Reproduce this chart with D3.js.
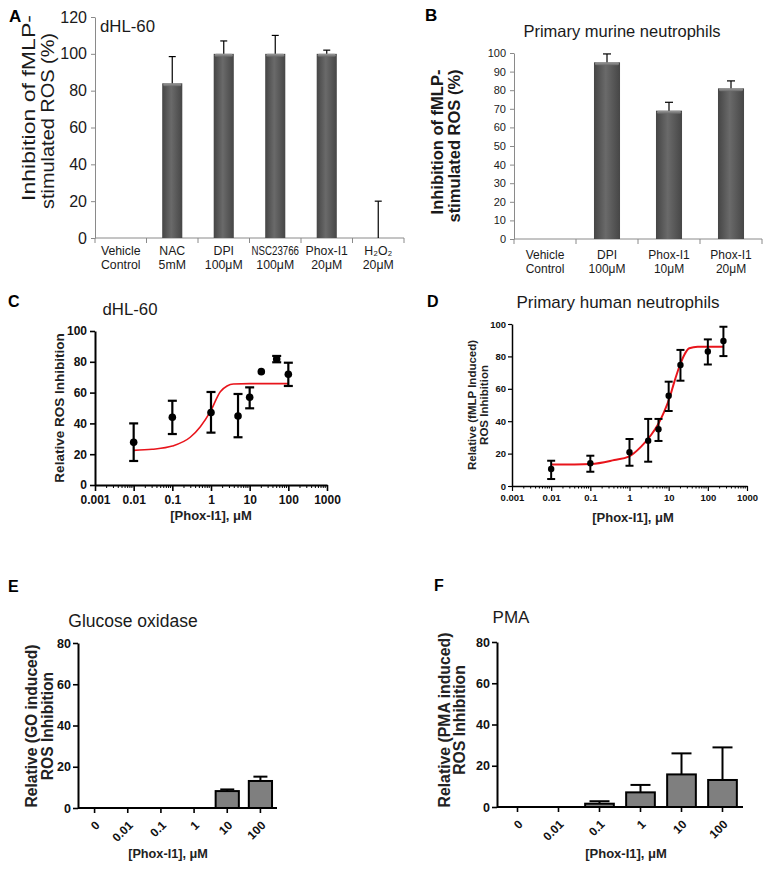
<!DOCTYPE html>
<html><head><meta charset="utf-8">
<script src="https://cdn.jsdelivr.net/npm/d3@7"></script>
<style>
body{margin:0;background:#fff}
svg{display:block}
text{font-family:"Liberation Sans",Arial,Helvetica,sans-serif}
</style>
</head><body>
<svg id="fig" width="776" height="870"></svg>
<script>
// ---------------- DATA ----------------
// Panel A: dHL-60
const catsA = ["Vehicle|Control","NAC|5mM","DPI|100μM","NSC23766|100μM","Phox-I1|20μM","H₂O₂|20μM"];
const meanA = [null, 84, 100, 100, 100, 0];
const errTopA = [null, 98.5, 107, 110, 102, 20];
const ticksA = [0, 20, 40, 60, 80, 100, 120];

// Panel B: primary murine neutrophils
const catsB = ["Vehicle|Control","DPI|100μM","Phox-I1|10μM","Phox-I1|20μM"];
const meanB = [null, 95, 69, 81];
const errTopB = [null, 99.5, 73.5, 85];
const ticksB = [0, 10, 20, 30, 40, 50, 60, 70, 80, 90, 100];

// Panel C: dHL-60 dose response
const doseC = [0.01, 0.1, 1, 5, 10, 20, 50, 100];
const meanC = [27.7, 44, 47, 44.8, 57, 73.6, 81.8, 71.9];
const lowC  = [15.6, 33.1, 34, 31, 49.8, 73.6, 79.7, 64.3];
const highC = [40, 54.7, 60.4, 59.1, 63.4, 73.6, 83.8, 79.4];
const fitDoseC = [0.01, 0.03, 0.1, 0.29, 0.53, 0.96, 1.74, 2.6, 3.8, 10, 100];
const fitC     = [22.5, 23.2, 25.3, 31, 37.9, 47.6, 60.6, 64.3, 65.6, 65.8, 65.8];
const ticksC = [0, 20, 40, 60, 80, 100];

// Panel D: primary human neutrophils dose response
const doseD = [0.01, 0.1, 1, 3, 5.5, 10, 20, 100, 250];
const meanD = [10.5, 14, 20.8, 28, 35, 55.7, 74.7, 83, 89.5];
const lowD  = [4.3, 8.8, 12.5, 15, 27.8, 46.3, 65, 75, 80.2];
const highD = [15.6, 18.7, 29, 41.4, 41.4, 64.4, 84, 90.5, 98.3];
const fitDoseD = [0.01, 0.105, 0.41, 0.955, 1.98, 3.55, 5.25, 7.7, 10.4, 14, 18.7, 25, 33.6, 55, 250];
const fitD     = [13.2, 13.6, 16, 18.1, 24.3, 31.5, 37.7, 45.9, 54, 64.4, 73.6, 80.9, 85, 86, 86];
const ticksD = [0, 20, 40, 60, 80, 100];

const logTicks = [0.001, 0.01, 0.1, 1, 10, 100, 1000];
const logTickLabels = ["0.001", "0.01", "0.1", "1", "10", "100", "1000"];

// Panels E / F
const catsEF = ["0", "0.01", "0.1", "1", "10", "100"];
const meanE = [0, 0, 0, 0, 8.2, 13.1];
const errTopE = [0, 0, 0, 0, 9, 15.2];
const meanF = [0, 0, 1.6, 7.1, 15.8, 13.1];
const errTopF = [0, 0, 2.8, 10.7, 26, 28.9];
const ticksEF = [0, 20, 40, 60, 80];

// ---------------- DRAWING ----------------
const svg = d3.select("#fig");
const FONT = '"Liberation Sans",Arial,Helvetica,sans-serif';

const defs = svg.append("defs");
const g1 = defs.append("linearGradient").attr("id", "barGrad").attr("x1", 0).attr("x2", 1).attr("y1", 0).attr("y2", 0);
g1.append("stop").attr("offset", "0%").attr("stop-color", "#454545");
g1.append("stop").attr("offset", "45%").attr("stop-color", "#6a6a6a");
g1.append("stop").attr("offset", "100%").attr("stop-color", "#464646");
const g2 = defs.append("linearGradient").attr("id", "capGrad").attr("x1", 0).attr("x2", 0).attr("y1", 0).attr("y2", 1);
g2.append("stop").attr("offset", "0%").attr("stop-color", "#9a9a9a");
g2.append("stop").attr("offset", "100%").attr("stop-color", "#6a6a6a");

function txt(x, y, s, size, opts = {}) {
  const t = svg.append("text").attr("x", x).attr("y", y).text(s)
    .attr("font-size", size).attr("fill", opts.fill || "#000")
    .attr("font-weight", opts.bold ? "bold" : "normal")
    .attr("text-anchor", opts.anchor || "start");
  return t;
}
function rotTxt(cx, cy, s, size, opts = {}) {
  const t = svg.append("text").attr("transform", `translate(${cx},${cy}) rotate(-90)`)
    .attr("x", 0).attr("y", 0).text(s).attr("font-size", size)
    .attr("font-weight", opts.bold ? "bold" : "normal")
    .attr("text-anchor", "middle").attr("fill", opts.fill || "#000");
  if (opts.len) t.attr("textLength", opts.len).attr("lengthAdjust", "spacingAndGlyphs");
  return t;
}

// ---------- Excel-style bar panels (A, B) ----------
function excelBars(cfg) {
  const g = svg.append("g");
  const x = d3.scaleBand().domain(cfg.cats).range([cfg.x0, cfg.x1]);
  const y = d3.scaleLinear().domain(cfg.yDomain).range([cfg.yBottom, cfg.yTop]);
  const axisCol = "#8a8a8a";
  const ya = g.append("g").attr("transform", `translate(${cfg.x0},0)`)
    .call(d3.axisLeft(y).tickValues(cfg.ticks).tickSize(4).tickSizeOuter(0).tickPadding(cfg.tickPad));
  ya.select(".domain").attr("stroke", axisCol);
  ya.selectAll(".tick line").attr("stroke", axisCol);
  ya.selectAll(".tick text").attr("font-size", cfg.tickFont).attr("font-family", FONT).attr("fill", "#1a1a1a");
  g.append("line").attr("x1", cfg.x0).attr("x2", cfg.x1).attr("y1", y(0)).attr("y2", y(0)).attr("stroke", axisCol);
  const bounds = cfg.cats.map(c => x(c)).concat([cfg.x1]);
  g.selectAll(".bt").data(bounds).enter().append("line")
    .attr("x1", d => d).attr("x2", d => d).attr("y1", y(0)).attr("y2", y(0) + 5).attr("stroke", axisCol);
  const bw = x.bandwidth() * cfg.barFrac;
  cfg.cats.forEach((c, i) => {
    const v = cfg.mean[i];
    if (v === null) return;
    const cx = x(c) + x.bandwidth() / 2;
    if (v > 0) {
      g.append("rect").attr("x", cx - bw / 2).attr("y", y(v)).attr("width", bw).attr("height", y(0) - y(v))
        .attr("fill", "url(#barGrad)");
      g.append("rect").attr("x", cx - bw / 2 + 1).attr("y", y(v)).attr("width", bw - 2).attr("height", 3)
        .attr("rx", 1.5).attr("fill", "url(#capGrad)");
    }
    const e = cfg.errTop[i];
    g.append("line").attr("x1", cx).attr("x2", cx).attr("y1", y(v)).attr("y2", y(e)).attr("stroke", "#000").attr("stroke-width", 1.2);
    g.append("line").attr("x1", cx - cfg.cap).attr("x2", cx + cfg.cap).attr("y1", y(e)).attr("y2", y(e)).attr("stroke", "#000").attr("stroke-width", 1.2);
  });
  const maxW = x.bandwidth() - 4;
  cfg.cats.forEach(c => {
    const cx = x(c) + x.bandwidth() / 2;
    const parts = c.split("|");
    parts.forEach((p, k) => {
      const t = svg.append("text").attr("transform", `translate(${cx},${k === 0 ? cfg.lab1 : cfg.lab2})`)
        .attr("x", 0).attr("y", 0).text(p).attr("font-size", cfg.labFont)
        .attr("text-anchor", "middle").attr("fill", "#1a1a1a");
      const w = t.node().getComputedTextLength();
      if (w > maxW)
        t.attr("transform", `translate(${cx},${k === 0 ? cfg.lab1 : cfg.lab2}) scale(${maxW / w},1)`);
    });
  });
  return { x, y };
}

// Panel A
excelBars({
  cats: catsA, mean: meanA, errTop: errTopA, ticks: ticksA, yDomain: [0, 120],
  x0: 95, x1: 404, yBottom: 238, yTop: 17, barFrac: 0.39, cap: 3.5,
  tickFont: 16, tickPad: 4, labFont: 12.3, lab1: 255, lab2: 269
});
txt(9, 22, "A", 17, { bold: true });
txt(100, 32, "dHL-60", 16.8, { fill: "#1a1a1a" });
rotTxt(35, 108, "Inhibition of fMLP-", 17.5, { len: 186, fill: "#1a1a1a" });
rotTxt(54, 121, "stimulated ROS (%)", 17.5, { len: 176, fill: "#1a1a1a" });

// Panel B
excelBars({
  cats: catsB, mean: meanB, errTop: errTopB, ticks: ticksB, yDomain: [0, 100],
  x0: 514, x1: 762, yBottom: 239, yTop: 53, barFrac: 0.42, cap: 4,
  tickFont: 11, tickPad: 4, labFont: 12, lab1: 259, lab2: 273
});
txt(425, 21, "B", 17, { bold: true });
txt(622, 37, "Primary murine neutrophils", 16.5, { anchor: "middle", fill: "#1a1a1a" });
rotTxt(443, 142, "Inhibition of fMLP-", 16.5, { bold: true, fill: "#1a1a1a" });
rotTxt(460, 146, "stimulated ROS (%)", 16.5, { bold: true, fill: "#1a1a1a" });

// ---------- Prism-style log dose-response (C, D) ----------
function doseResp(cfg) {
  const g = svg.append("g");
  const x = d3.scaleLog().domain([0.001, 1000]).range([cfg.x0, cfg.x1]);
  const y = d3.scaleLinear().domain([0, 100]).range([cfg.yBottom, cfg.yTop]);
  const sw = cfg.axisW;
  const minors = x.ticks().filter(t => logTicks.indexOf(t) < 0);
  g.selectAll(".mt").data(minors).enter().append("line")
    .attr("x1", d => x(d)).attr("x2", d => x(d)).attr("y1", cfg.yBottom).attr("y2", cfg.yBottom + cfg.minorLen)
    .attr("stroke", "#000").attr("stroke-width", 1);
  const xa = g.append("g").attr("transform", `translate(0,${cfg.yBottom})`)
    .call(d3.axisBottom(x).tickValues(logTicks).tickFormat((d, i) => logTickLabels[i]).tickSize(cfg.majorLen).tickSizeOuter(0).tickPadding(cfg.xPad));
  xa.select(".domain").attr("stroke-width", sw).attr("stroke", "#000");
  xa.selectAll(".tick line").attr("stroke-width", sw * 0.8);
  xa.selectAll(".tick text").attr("font-size", cfg.tickFont).attr("font-weight", "bold").attr("font-family", FONT).attr("fill", "#111");
  const ya = g.append("g").attr("transform", `translate(${cfg.x0},0)`)
    .call(d3.axisLeft(y).tickValues(cfg.ticks).tickSize(cfg.yTick).tickSizeOuter(0).tickPadding(cfg.yPad));
  ya.select(".domain").attr("stroke-width", sw).attr("stroke", "#000");
  ya.selectAll(".tick line").attr("stroke-width", sw * 0.8);
  ya.selectAll(".tick text").attr("font-size", cfg.tickFont).attr("font-weight", "bold").attr("font-family", FONT).attr("fill", "#111");
  const pts = cfg.fitX.map((d, i) => [x(d), y(cfg.fitY[i])]);
  g.append("path").attr("d", d3.line().curve(d3.curveMonotoneX)(pts))
    .attr("fill", "none").attr("stroke", "#e8141b").attr("stroke-width", cfg.fitW);
  cfg.dose.forEach((d, i) => {
    const cx = x(d);
    if (cfg.high[i] !== cfg.low[i]) {
      g.append("line").attr("x1", cx).attr("x2", cx).attr("y1", y(cfg.low[i])).attr("y2", y(cfg.high[i]))
        .attr("stroke", "#000").attr("stroke-width", cfg.errW);
      [cfg.low[i], cfg.high[i]].forEach(v => {
        g.append("line").attr("x1", cx - cfg.cap).attr("x2", cx + cfg.cap).attr("y1", y(v)).attr("y2", y(v))
          .attr("stroke", "#000").attr("stroke-width", cfg.errW);
      });
    }
    g.append("circle").attr("cx", cx).attr("cy", y(cfg.mean[i])).attr("r", cfg.r).attr("fill", "#000");
  });
}

doseResp({
  x0: 95, x1: 327, yBottom: 485, yTop: 331, ticks: ticksC,
  dose: doseC, mean: meanC, low: lowC, high: highC, fitX: fitDoseC, fitY: fitC,
  axisW: 2, majorLen: 6, minorLen: 3, yTick: 5, tickFont: 12, xPad: 4, yPad: 3,
  fitW: 1.6, errW: 2.2, cap: 4.5, r: 3.8
});
txt(8, 307, "C", 16, { bold: true });
txt(130, 315, "dHL-60", 16.8, { anchor: "middle", fill: "#1a1a1a" });
rotTxt(64, 408, "Relative ROS Inhibition", 13.5, { bold: true, fill: "#222" });
txt(211, 520, "[Phox-I1], μM", 13, { bold: true, anchor: "middle", fill: "#222" });

doseResp({
  x0: 512, x1: 747, yBottom: 486, yTop: 324, ticks: ticksD,
  dose: doseD, mean: meanD, low: lowD, high: highD, fitX: fitDoseD, fitY: fitD,
  axisW: 1.5, majorLen: 5, minorLen: 2.5, yTick: 4, tickFont: 9.5, xPad: 3, yPad: 2,
  fitW: 2, errW: 2, cap: 4, r: 3.2
});
txt(427, 307, "D", 16, { bold: true });
txt(618, 308, "Primary human neutrophils", 17, { anchor: "middle", fill: "#1a1a1a" });
rotTxt(476, 405, "Relative (fMLP Induced)", 11.5, { bold: true, fill: "#222" });
rotTxt(488, 405, "ROS Inhibition", 11.5, { bold: true, fill: "#222" });
txt(633, 522, "[Phox-I1], μM", 13, { bold: true, anchor: "middle", fill: "#222" });

// ---------- Prism-style category bars (E, F) ----------
function prismBars(cfg) {
  const g = svg.append("g");
  const x = d3.scaleBand().domain(catsEF).range([cfg.x0, cfg.x1]).paddingInner(0.3).paddingOuter(0.15);
  const y = d3.scaleLinear().domain([0, 80]).range([cfg.yBottom, cfg.yTop]);
  const ya = g.append("g").attr("transform", `translate(${cfg.x0},0)`)
    .call(d3.axisLeft(y).tickValues(ticksEF).tickSize(5).tickSizeOuter(0).tickPadding(2));
  ya.select(".domain").attr("stroke-width", 2);
  ya.selectAll(".tick line").attr("stroke-width", 1.6);
  ya.selectAll(".tick text").attr("font-size", 12.5).attr("font-weight", "bold").attr("font-family", FONT).attr("fill", "#111");
  catsEF.forEach((c, i) => {
    const v = cfg.mean[i];
    if (!v) return;
    const bx = x(c), bw = x.bandwidth(), cx = bx + bw / 2;
    g.append("line").attr("x1", cx).attr("x2", cx).attr("y1", y(v)).attr("y2", y(cfg.errTop[i]))
      .attr("stroke", "#000").attr("stroke-width", 2);
    g.append("line").attr("x1", cx - cfg.cap).attr("x2", cx + cfg.cap).attr("y1", y(cfg.errTop[i])).attr("y2", y(cfg.errTop[i]))
      .attr("stroke", "#000").attr("stroke-width", 2);
    g.append("rect").attr("x", bx).attr("y", y(v)).attr("width", bw).attr("height", y(0) - y(v))
      .attr("fill", "#7f7f7f").attr("stroke", "#000").attr("stroke-width", 2);
  });
  g.append("line").attr("x1", cfg.x0).attr("x2", cfg.x1).attr("y1", y(0)).attr("y2", y(0)).attr("stroke", "#000").attr("stroke-width", 2);
  catsEF.forEach(c => {
    const cx = x(c) + x.bandwidth() / 2;
    g.append("line").attr("x1", cx).attr("x2", cx).attr("y1", y(0)).attr("y2", y(0) + 5).attr("stroke", "#000").attr("stroke-width", 1.6);
    svg.append("text").attr("transform", `translate(${cx + 6},${y(0) + 18}) rotate(-45)`)
      .attr("text-anchor", "end").attr("font-size", 12).attr("font-weight", "bold").attr("fill", "#111").text(c);
  });
}

prismBars({ x0: 78, x1: 277, yBottom: 808, yTop: 643, mean: meanE, errTop: errTopE, cap: 7 });
txt(8, 592, "E", 16, { bold: true });
txt(133, 627, "Glucose oxidase", 17.5, { anchor: "middle", fill: "#1a1a1a" });
rotTxt(37, 726, "Relative (GO induced)", 15.6, { bold: true, fill: "#222" });
rotTxt(53, 726, "ROS Inhibition", 15.6, { bold: true, fill: "#222" });
txt(168, 858, "[Phox-I1], μM", 12.7, { bold: true, anchor: "middle", fill: "#222" });

prismBars({ x0: 497, x1: 743, yBottom: 807, yTop: 642, mean: meanF, errTop: errTopF, cap: 10 });
txt(434, 591, "F", 16, { bold: true });
txt(511, 623, "PMA", 17, { anchor: "middle", fill: "#1a1a1a" });
rotTxt(450, 720, "Relative (PMA induced)", 15.8, { bold: true, fill: "#222" });
rotTxt(465, 720, "ROS Inhibition", 15.8, { bold: true, fill: "#222" });
txt(626, 858, "[Phox-I1], μM", 13, { bold: true, anchor: "middle", fill: "#222" });
</script>
</body></html>
